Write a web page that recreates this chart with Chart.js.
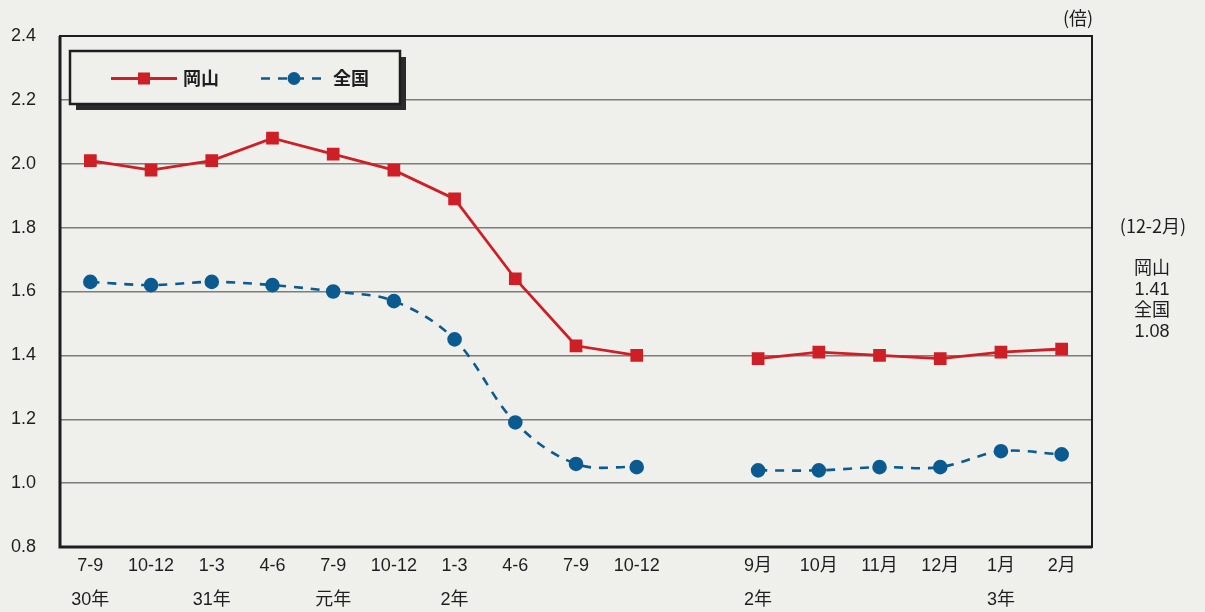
<!DOCTYPE html>
<html lang="ja">
<head>
<meta charset="utf-8">
<title>有効求人倍率の推移</title>
<script src="https://cdn.jsdelivr.net/npm/chart.js@4/dist/chart.umd.min.js"></script>
<style>
  html, body { margin: 0; padding: 0; background: #efefec; }
  #wrap { position: relative; width: 1205px; height: 612px; }
</style>
</head>
<body>
<div id="wrap"><canvas id="ratioChart" width="1205" height="612"></canvas></div>
<script>
// 期間ラベル（上段：期間、下段：年）
const periods = ['7-9', '10-12', '1-3', '4-6', '7-9', '10-12', '1-3', '4-6', '7-9', '10-12', '',
                 '9月', '10月', '11月', '12月', '1月', '2月'];
const years = ['30年', '', '31年', '', '元年', '', '2年', '', '', '', '',
               '2年', '', '', '', '3年', ''];

// 有効求人倍率（四半期→月次、間は空白）
const okayama = [2.01, 1.98, 2.01, 2.08, 2.03, 1.98, 1.89, 1.64, 1.43, 1.40, null,
                 1.39, 1.41, 1.40, 1.39, 1.41, 1.42];
const zenkoku = [1.63, 1.62, 1.63, 1.62, 1.60, 1.57, 1.45, 1.19, 1.06, 1.05, null,
                 1.04, 1.04, 1.05, 1.05, 1.10, 1.09];

const yTicks = [0.8, 1.0, 1.2, 1.4, 1.6, 1.8, 2.0, 2.2, 2.4];

// 右側の注記（12-2月平均）
const sideNote = ['(12-2月)', '', '岡山', '1.41', '全国', '1.08'];

const RED = '#cf1f26';
const BLUE = '#0b5a90';
const INK = '#1e1e1e';
const FONT = "'Liberation Sans Narrow', 'Liberation Sans', 'Noto Sans CJK JP', sans-serif";
const JFONT = "'Noto Sans CJK JP', 'Liberation Sans', sans-serif";

// 枠線・凡例・注記
const framePlugin = {
  id: 'frame',
  beforeDatasetsDraw(chart) {
    const { ctx, chartArea: a } = chart;
    ctx.save();
    ctx.strokeStyle = INK;
    ctx.lineWidth = 2;
    ctx.strokeRect(a.left, a.top, a.right - a.left, a.bottom - a.top);
    ctx.lineWidth = 3;
    ctx.beginPath();
    ctx.moveTo(a.left, a.top);
    ctx.lineTo(a.left, a.bottom);
    ctx.lineTo(a.right, a.bottom);
    ctx.stroke();
    ctx.restore();
  },
  afterDatasetsDraw(chart) {
    const { ctx } = chart;
    ctx.save();
    // 凡例ボックス（影付き）
    const bx = 70, by = 51, bw = 330, bh = 53;
    ctx.fillStyle = '#2b2b2b';
    ctx.fillRect(bx + 6, by + 6, bw, bh);
    ctx.fillStyle = '#efefec';
    ctx.fillRect(bx, by, bw, bh);
    ctx.strokeStyle = INK;
    ctx.lineWidth = 2.5;
    ctx.strokeRect(bx, by, bw, bh);

    const cy = by + bh / 2 + 1;
    const starts = [111, 261];
    chart.data.datasets.forEach((ds, i) => {
      const x0 = starts[i], len = 66;
      ctx.strokeStyle = ds.borderColor;
      ctx.lineWidth = ds.borderWidth;
      ctx.setLineDash(ds.borderDash || []);
      ctx.beginPath();
      ctx.moveTo(x0, cy);
      ctx.lineTo(x0 + len, cy);
      ctx.stroke();
      ctx.setLineDash([]);
      ctx.fillStyle = ds.pointBackgroundColor;
      const mx = x0 + len / 2;
      if (ds.pointStyle === 'rect') {
        ctx.fillRect(mx - 6, cy - 6, 12, 12);
      } else {
        ctx.beginPath();
        ctx.arc(mx, cy, 6.5, 0, Math.PI * 2);
        ctx.fill();
      }
      ctx.fillStyle = INK;
      ctx.font = "bold 18px " + JFONT;
      ctx.textBaseline = 'middle';
      ctx.textAlign = 'left';
      ctx.fillText(ds.label, x0 + len + 6, cy);
    });

    // 単位と右側の注記
    ctx.fillStyle = INK;
    ctx.textAlign = 'center';
    ctx.textBaseline = 'middle';
    ctx.font = "18px " + JFONT;
    ctx.fillText('(倍)', 1078, 18);
    ctx.fillText(sideNote[0], 1153, 226);
    ctx.font = "18px " + FONT;
    for (let k = 2; k < sideNote.length; k++) {
      ctx.fillText(sideNote[k], 1152, 269 + (k - 2) * 21);
    }
    ctx.restore();
  }
};

const ctx = document.getElementById('ratioChart').getContext('2d');
new Chart(ctx, {
  type: 'line',
  data: {
    labels: periods.map((p, i) => [p, years[i]]),
    datasets: [
      {
        label: '岡山',
        data: okayama,
        borderColor: RED,
        backgroundColor: RED,
        pointBackgroundColor: RED,
        pointBorderColor: RED,
        borderWidth: 2.8,
        pointStyle: 'rect',
        pointRadius: 7,
        tension: 0,
        spanGaps: false
      },
      {
        label: '全国',
        data: zenkoku,
        borderColor: BLUE,
        backgroundColor: BLUE,
        pointBackgroundColor: BLUE,
        pointBorderColor: BLUE,
        borderWidth: 2.6,
        borderDash: [9, 8],
        pointStyle: 'circle',
        pointRadius: 6,
        tension: 0.35,
        spanGaps: false
      }
    ]
  },
  options: {
    responsive: false,
    animation: false,
    layout: { padding: { left: 0, top: 36, right: 113, bottom: 0 } },
    plugins: {
      legend: { display: false },
      tooltip: { enabled: false }
    },
    scales: {
      x: {
        offset: true,
        grid: { display: false, drawTicks: false },
        border: { display: false },
        ticks: {
          autoSkip: false,
          maxRotation: 0,
          padding: 2,
          color: INK,
          font: { family: FONT, size: 18, lineHeight: 34 / 18 }
        },
        afterFit(scale) { scale.height = 65; }
      },
      y: {
        min: 0.8,
        max: 2.4,
        afterBuildTicks(scale) { scale.ticks = yTicks.map(v => ({ value: v })); },
        grid: { color: '#7d7d7d', lineWidth: 1.5, drawTicks: false },
        border: { display: false },
        ticks: {
          padding: 24,
          color: INK,
          font: { family: FONT, size: 18 },
          callback: v => v.toFixed(1)
        },
        afterFit(scale) { scale.width = 60; }
      }
    }
  },
  plugins: [framePlugin]
});
</script>
</body>
</html>
